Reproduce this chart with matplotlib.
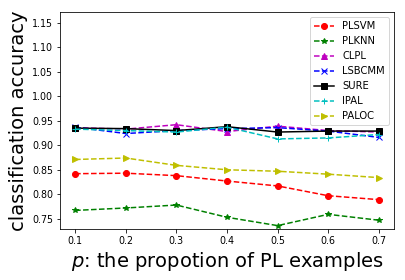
import matplotlib
matplotlib.use('Agg')
import matplotlib.pyplot as plt

# proportion of partial-label examples
ratios = [0.1, 0.2, 0.3, 0.4, 0.5, 0.6, 0.7]

plsvm = [0.842, 0.843, 0.838, 0.827, 0.817, 0.797, 0.789]
plknn = [0.767, 0.772, 0.778, 0.753, 0.736, 0.759, 0.747]
clpl = [0.936, 0.933, 0.942, 0.928, 0.939, 0.930, 0.927]
lsbcmm = [0.937, 0.924, 0.930, 0.934, 0.936, 0.929, 0.916]
sure = [0.935, 0.934, 0.930, 0.938, 0.927, 0.929, 0.929]
ipal = [0.933, 0.930, 0.927, 0.937, 0.913, 0.915, 0.922]
paloc = [0.871, 0.874, 0.859, 0.850, 0.847, 0.841, 0.834]

fig = plt.figure(figsize=(405 / 72, 280 / 72), dpi=72)
ax = fig.add_axes([0.148, 0.182, 0.825, 0.775])

ax.plot(ratios, plsvm, 'r--o', label='PLSVM')
ax.plot(ratios, plknn, 'g--*', label='PLKNN')
ax.plot(ratios, clpl, 'm--^', label='CLPL')
ax.plot(ratios, lsbcmm, 'b--x', label='LSBCMM')
ax.plot(ratios, sure, 'k-s', label='SURE')
ax.plot(ratios, ipal, 'c--+', label='IPAL')
ax.plot(ratios, paloc, 'y-->', label='PALOC')

ax.set_ylim(0.729, 1.172)
ax.set_xticks(ratios)
ax.set_yticks([0.75, 0.80, 0.85, 0.90, 0.95, 1.00, 1.05, 1.10, 1.15])
ax.tick_params(labelsize=9.5)
ax.set_xlabel('$p$: the propotion of PL examples', fontsize=19.5)
ax.set_ylabel('classification accuracy', fontsize=19.5)
ax.legend(loc='upper right', fontsize=10)

fig.savefig('out.png', dpi=72)
